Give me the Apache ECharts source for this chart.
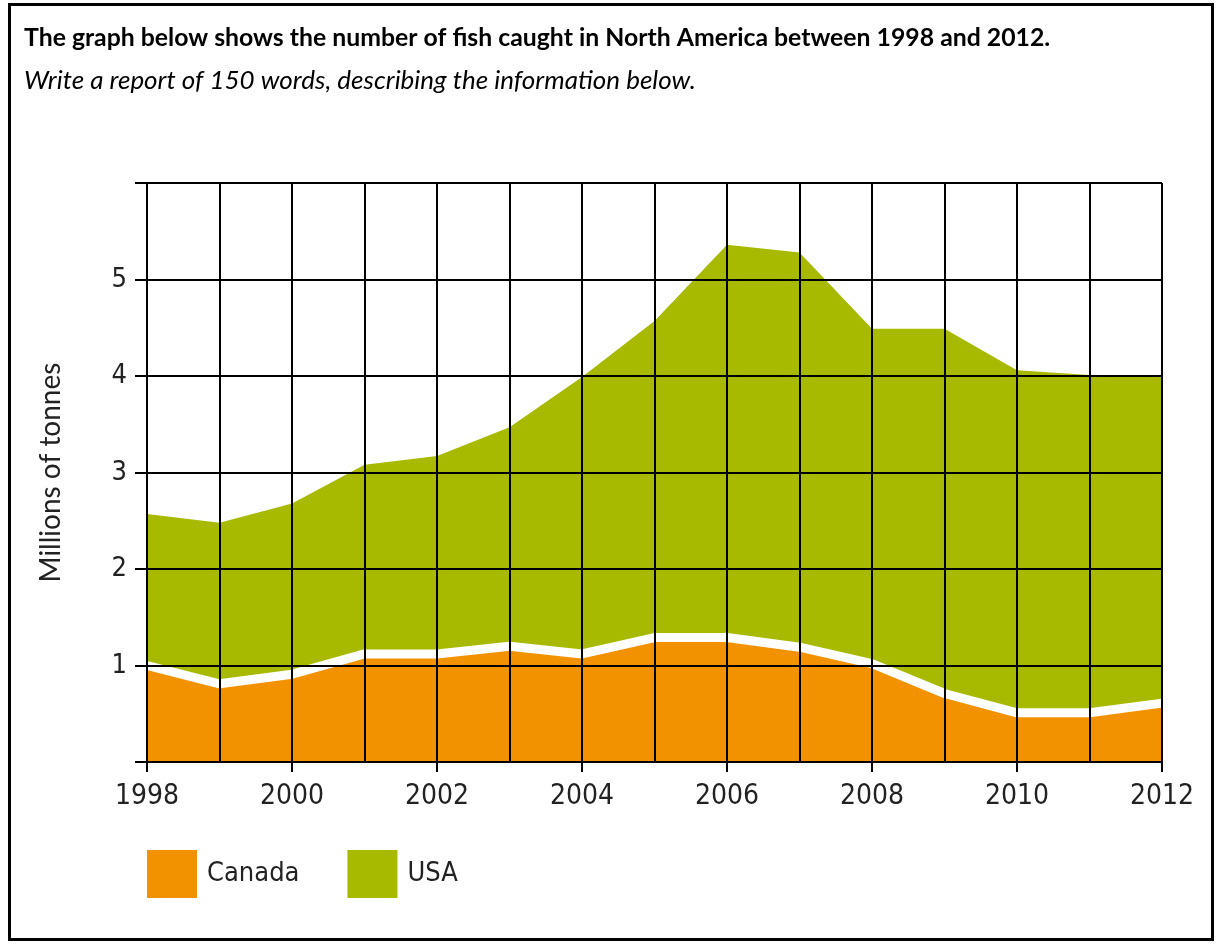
<!DOCTYPE html>
<html>
<head>
<meta charset="utf-8">
<script src="https://cdn.jsdelivr.net/npm/echarts@6/dist/echarts.min.js"></script>
<style>
  html, body { margin: 0; padding: 0; background: #fff; }
  #main { width: 1219px; height: 944px; }
</style>
</head>
<body>
<div id="main"></div>
<script>
  // years on the x axis
  var years = ['1998', '1999', '2000', '2001', '2002', '2003', '2004', '2005',
    '2006', '2007', '2008', '2009', '2010', '2011', '2012'];
  // Canada catch (millions of tonnes)
  var canada = [1.0, 0.81, 0.91, 1.12, 1.12, 1.2, 1.12, 1.29, 1.29, 1.19, 1.02, 0.71, 0.51, 0.51, 0.61];
  // top of the USA band (Canada + USA, millions of tonnes)
  var usaTop = [2.57, 2.48, 2.68, 3.08, 3.17, 3.47, 3.99, 4.57, 5.36, 5.28, 4.49, 4.49, 4.06, 4.01, 4.01];

  var orange = '#F39200';
  var green = '#A8BA00';
  var axisFont = '"DejaVu Sans Condensed", "DejaVu Sans", sans-serif';

  var myChart = echarts.init(document.getElementById('main'));
  myChart.setOption({
    animation: false,
    title: [
      {
        text: 'The graph below shows the number of fish caught in North America between 1998 and 2012.',
        left: 19,
        top: 21,
        textStyle: {fontFamily: 'Lato', fontWeight: 'bold', fontSize: 24.8, color: '#000'}
      },
      {
        text: 'Write a report of 150 words, describing the information below.',
        left: 19,
        top: 63,
        textStyle: {fontFamily: 'Lato', fontStyle: 'italic', fontWeight: 'normal', fontSize: 26, color: '#000'}
      }
    ],
    graphic: [
      {
        type: 'rect',
        shape: {x: 9.5, y: 4.5, width: 1203, height: 935},
        style: {fill: 'none', stroke: '#000', lineWidth: 3},
        z: 100
      }
    ],
    legend: {
      left: 142,
      top: 845,
      icon: 'rect',
      itemWidth: 50,
      itemHeight: 48,
      itemGap: 48,
      textStyle: {fontFamily: axisFont, fontSize: 27, color: '#222', padding: [6, 0, 0, 5]},
      data: [
        {name: 'Canada', itemStyle: {color: orange}},
        {name: 'USA', itemStyle: {color: green}}
      ]
    },
    grid: {left: 147, right: 57, top: 183, bottom: 182},
    xAxis: {
      type: 'category',
      data: years,
      boundaryGap: false,
      z: 5,
      axisLine: {lineStyle: {color: '#000', width: 2}},
      axisTick: {show: true, interval: 1, length: 10, lineStyle: {color: '#000', width: 2}},
      axisLabel: {interval: 1, fontFamily: axisFont, fontSize: 28, color: '#222', margin: 21},
      splitLine: {show: true, interval: 0, lineStyle: {color: '#000', width: 2}}
    },
    yAxis: {
      type: 'value',
      min: 0,
      max: 6,
      interval: 1,
      z: 5,
      name: 'Millions of tonnes',
      nameLocation: 'middle',
      nameGap: 82,
      nameTextStyle: {fontFamily: 'Lato', fontSize: 28, color: '#222'},
      axisLine: {show: true, lineStyle: {color: '#000', width: 2}},
      axisTick: {show: true, length: 12, lineStyle: {color: '#000', width: 2}},
      axisLabel: {
        fontFamily: axisFont, fontSize: 27, color: '#222', margin: 20,
        formatter: function (v) { return (v === 0 || v === 6) ? '' : v; }
      },
      splitLine: {show: true, lineStyle: {color: '#000', width: 2}}
    },
    series: [
      {
        name: 'USA',
        type: 'line',
        data: usaTop,
        symbol: 'none',
        itemStyle: {color: green},
        lineStyle: {width: 0, color: green},
        areaStyle: {color: green, opacity: 1},
        z: 1
      },
      {
        name: 'Canada',
        type: 'line',
        data: canada,
        symbol: 'none',
        itemStyle: {color: orange},
        lineStyle: {width: 9, color: '#fff'},
        areaStyle: {color: orange, opacity: 1},
        z: 2
      }
    ]
  });
</script>
</body>
</html>
